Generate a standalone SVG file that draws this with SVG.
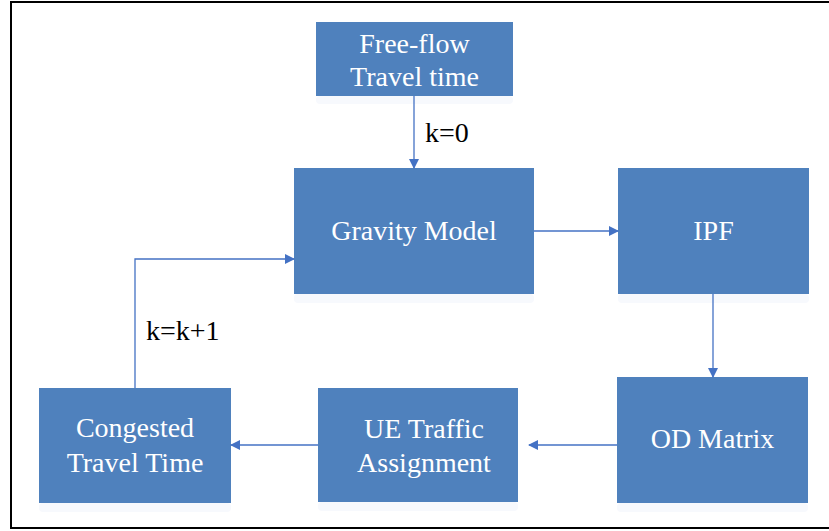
<svg xmlns="http://www.w3.org/2000/svg" width="829" height="531" viewBox="0 0 829 531">
<style>
.box{fill:#4F81BD}
.sh{fill:#F7F9FD}
.t{font-family:'Liberation Serif','DejaVu Serif',serif;font-size:28px;fill:#FFFFFF;text-anchor:middle}
.lbl{font-family:'Liberation Serif','DejaVu Serif',serif;font-size:28px;fill:#000000}
.c{fill:none;stroke:#4472C4;stroke-width:1.3}
</style>
<defs>
<marker id="ah" markerWidth="10" markerHeight="10" refX="9" refY="5" orient="auto" markerUnits="userSpaceOnUse">
<path d="M0,0 L10,5 L0,10 Z" fill="#4472C4"/>
</marker>
</defs>
<rect x="11" y="2" width="830" height="526" fill="#FFFFFF" stroke="#000000" stroke-width="2"/>
<g id="free-flow">
<rect class="sh" x="316" y="96" width="197" height="8" rx="4"/>
<rect class="box" x="316" y="22" width="197" height="74"/>
<text class="t" x="414.5" y="53">Free-flow</text>
<text class="t" x="414.5" y="86">Travel time</text>
</g>
<g id="gravity">
<rect class="sh" x="294" y="294" width="240" height="9" rx="4"/>
<rect class="box" x="294" y="168" width="240" height="126"/>
<text class="t" x="414" y="240">Gravity Model</text>
</g>
<g id="ipf">
<rect class="sh" x="618" y="294" width="191" height="9" rx="4"/>
<rect class="box" x="618" y="168" width="191" height="126"/>
<text class="t" x="713.5" y="240">IPF</text>
</g>
<g id="od">
<rect class="sh" x="617" y="503" width="191" height="9" rx="4"/>
<rect class="box" x="617" y="377" width="191" height="126"/>
<text class="t" x="712.5" y="448">OD Matrix</text>
</g>
<g id="ue">
<rect class="sh" x="318" y="502" width="200" height="9" rx="4"/>
<rect class="box" x="318" y="388" width="200" height="114"/>
<text class="t" x="424" y="438">UE Traffic</text>
<text class="t" x="424" y="472">Assignment</text>
</g>
<g id="congested">
<rect class="sh" x="39" y="503" width="192" height="9" rx="4"/>
<rect class="box" x="39" y="388" width="192" height="115"/>
<text class="t" x="135" y="437">Congested</text>
<text class="t" x="135" y="472">Travel Time</text>
</g>
<g id="connectors">
<path class="c" d="M414,96 V168" marker-end="url(#ah)"/>
<path class="c" d="M534,231 H618" marker-end="url(#ah)"/>
<path class="c" d="M713,294 V377" marker-end="url(#ah)"/>
<path class="c" d="M617,445 H529" marker-end="url(#ah)"/>
<path class="c" d="M318,445 H231" marker-end="url(#ah)"/>
<path class="c" d="M135,388 V259 H294" marker-end="url(#ah)"/>
</g>
<text class="lbl" x="425" y="142">k=0</text>
<text class="lbl" x="146" y="340">k=k+1</text>
</svg>
